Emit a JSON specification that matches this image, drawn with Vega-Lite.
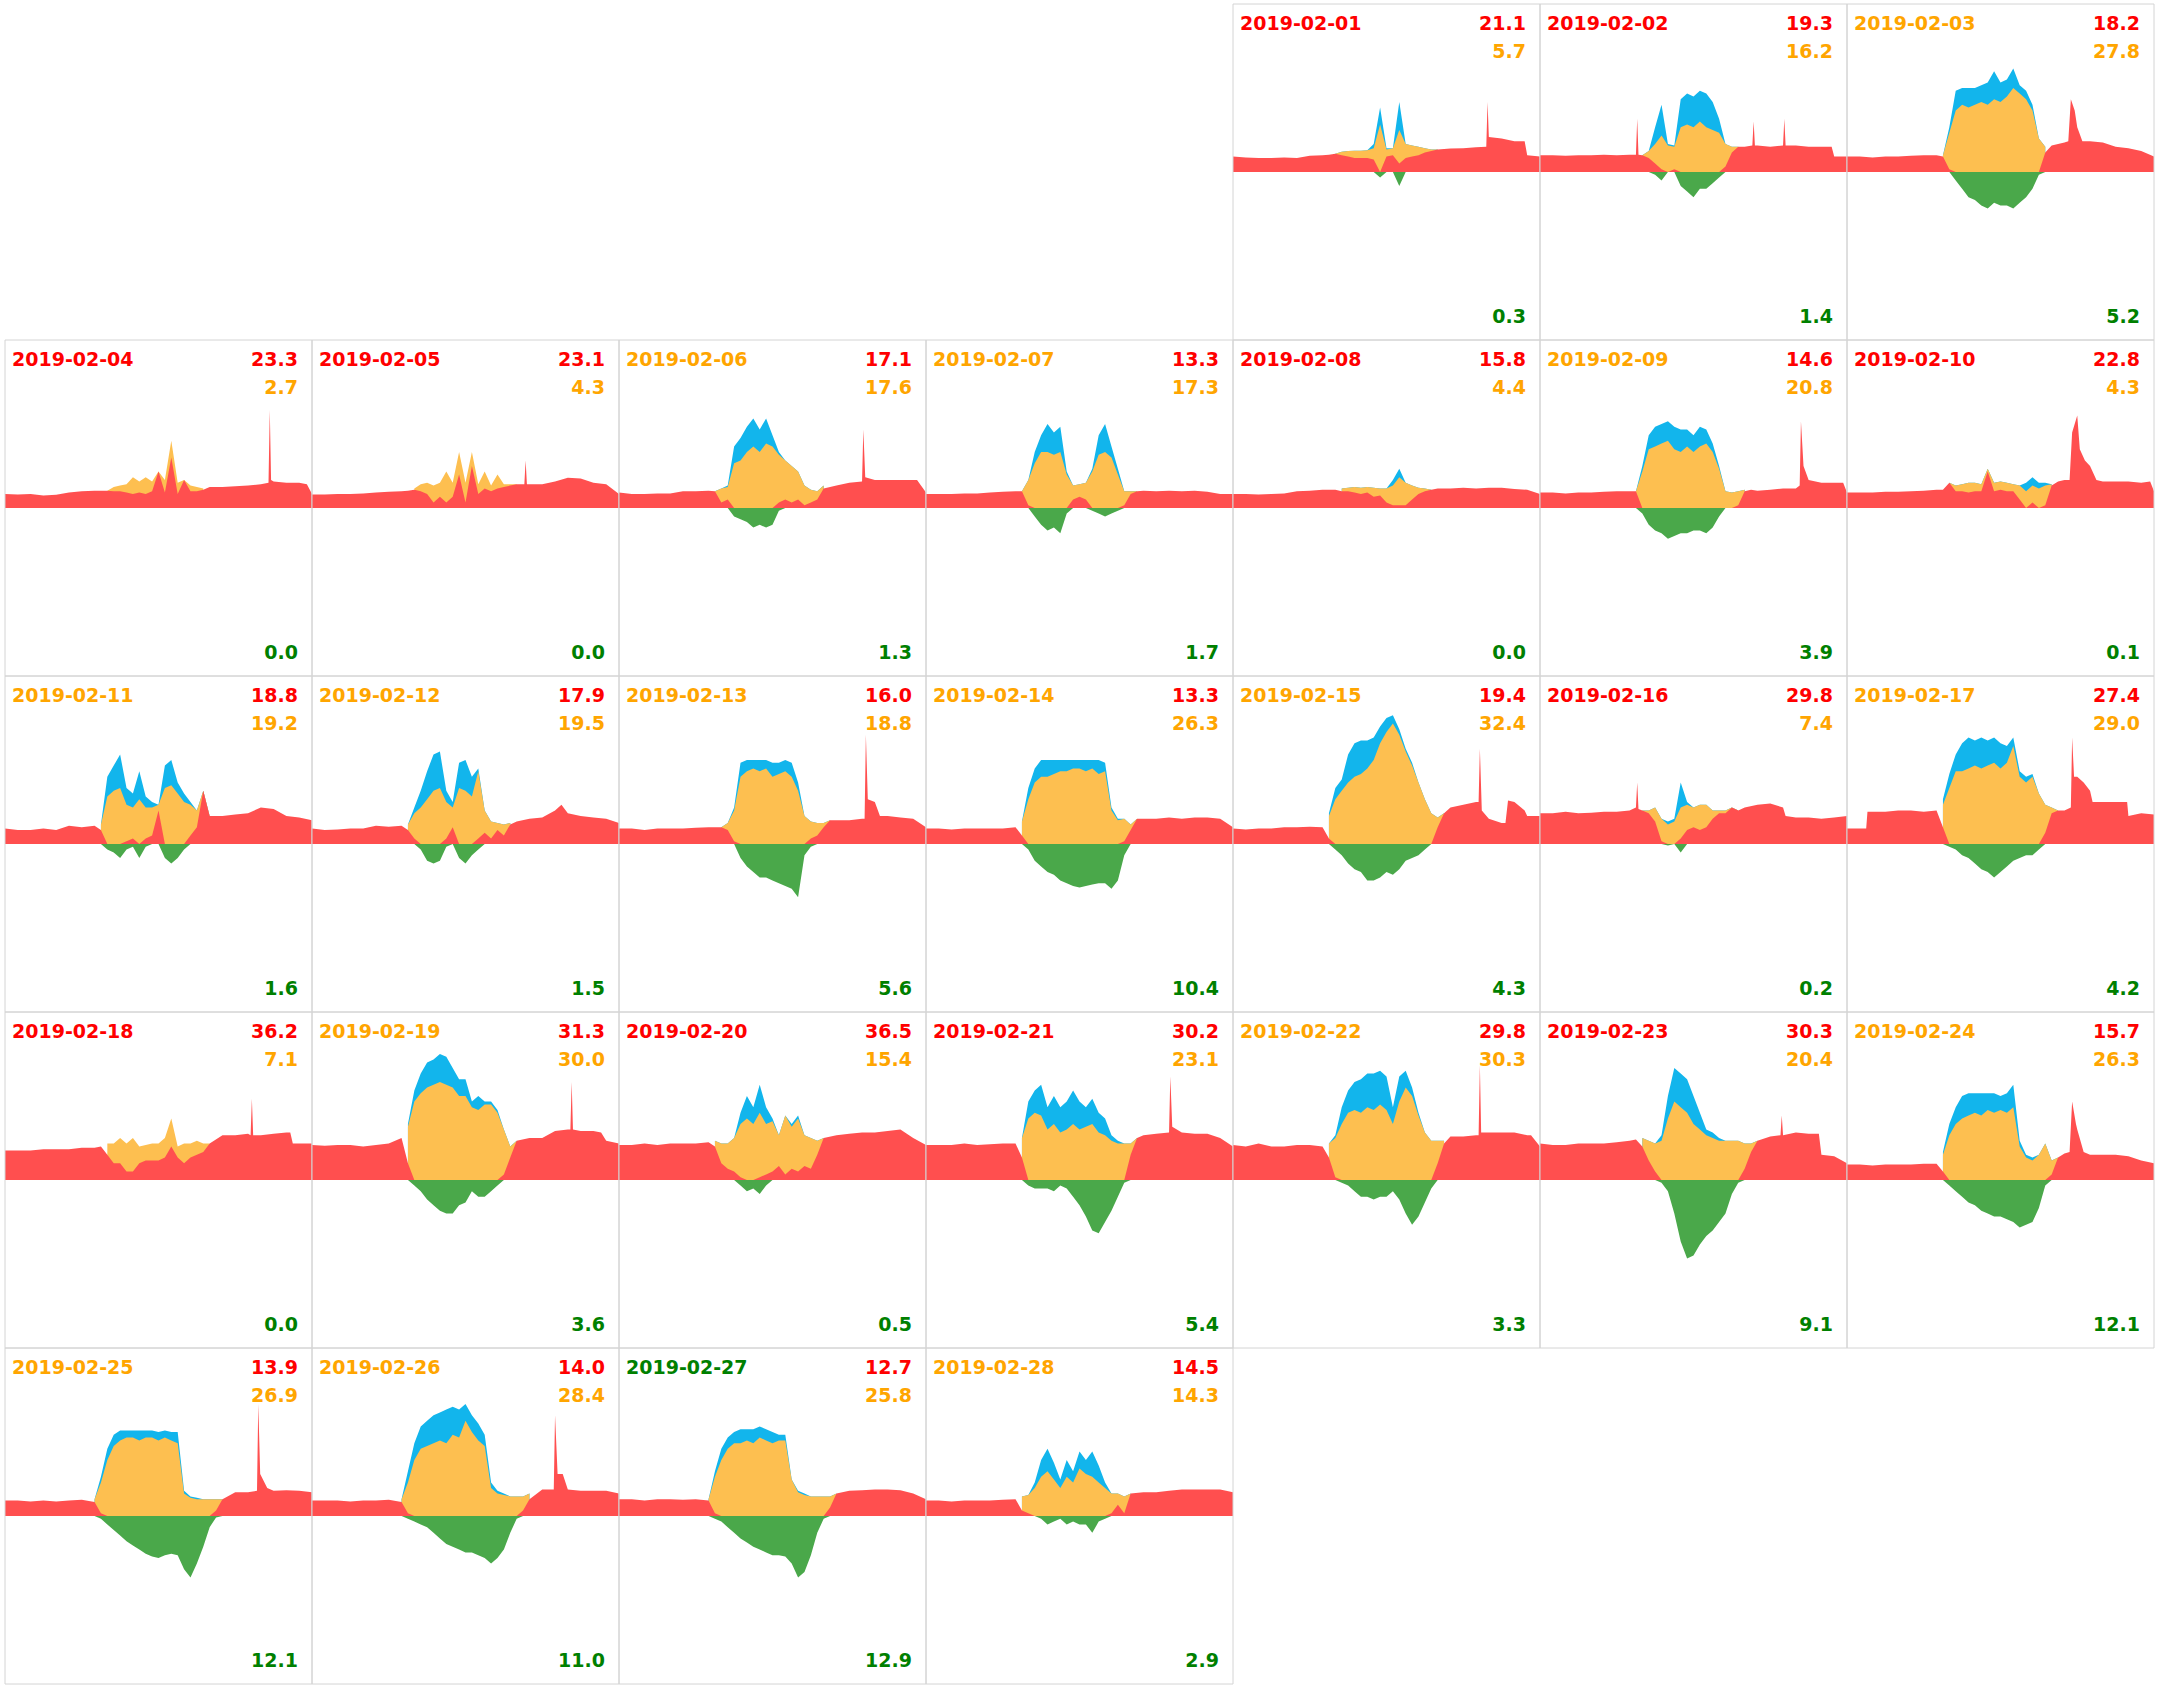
{
  "$schema": "https://vega.github.io/schema/vega-lite/v6.json",
  "padding": {"left": 4, "top": 3, "right": 4, "bottom": 3},
  "background": "white",
  "bounds": "flush",
  "data": {
    "values": [
      {"day":1,"dt":"2019-02-01","inKwh":21.1,"pvKwh":5.7,"outKwh":0.3,"lead":"import"},
      {"day":2,"dt":"2019-02-02","inKwh":19.3,"pvKwh":16.2,"outKwh":1.4,"lead":"import"},
      {"day":3,"dt":"2019-02-03","inKwh":18.2,"pvKwh":27.8,"outKwh":5.2,"lead":"solar"},
      {"day":4,"dt":"2019-02-04","inKwh":23.3,"pvKwh":2.7,"outKwh":0.0,"lead":"import"},
      {"day":5,"dt":"2019-02-05","inKwh":23.1,"pvKwh":4.3,"outKwh":0.0,"lead":"import"},
      {"day":6,"dt":"2019-02-06","inKwh":17.1,"pvKwh":17.6,"outKwh":1.3,"lead":"solar"},
      {"day":7,"dt":"2019-02-07","inKwh":13.3,"pvKwh":17.3,"outKwh":1.7,"lead":"solar"},
      {"day":8,"dt":"2019-02-08","inKwh":15.8,"pvKwh":4.4,"outKwh":0.0,"lead":"import"},
      {"day":9,"dt":"2019-02-09","inKwh":14.6,"pvKwh":20.8,"outKwh":3.9,"lead":"solar"},
      {"day":10,"dt":"2019-02-10","inKwh":22.8,"pvKwh":4.3,"outKwh":0.1,"lead":"import"},
      {"day":11,"dt":"2019-02-11","inKwh":18.8,"pvKwh":19.2,"outKwh":1.6,"lead":"solar"},
      {"day":12,"dt":"2019-02-12","inKwh":17.9,"pvKwh":19.5,"outKwh":1.5,"lead":"solar"},
      {"day":13,"dt":"2019-02-13","inKwh":16.0,"pvKwh":18.8,"outKwh":5.6,"lead":"solar"},
      {"day":14,"dt":"2019-02-14","inKwh":13.3,"pvKwh":26.3,"outKwh":10.4,"lead":"solar"},
      {"day":15,"dt":"2019-02-15","inKwh":19.4,"pvKwh":32.4,"outKwh":4.3,"lead":"solar"},
      {"day":16,"dt":"2019-02-16","inKwh":29.8,"pvKwh":7.4,"outKwh":0.2,"lead":"import"},
      {"day":17,"dt":"2019-02-17","inKwh":27.4,"pvKwh":29.0,"outKwh":4.2,"lead":"solar"},
      {"day":18,"dt":"2019-02-18","inKwh":36.2,"pvKwh":7.1,"outKwh":0.0,"lead":"import"},
      {"day":19,"dt":"2019-02-19","inKwh":31.3,"pvKwh":30.0,"outKwh":3.6,"lead":"solar"},
      {"day":20,"dt":"2019-02-20","inKwh":36.5,"pvKwh":15.4,"outKwh":0.5,"lead":"import"},
      {"day":21,"dt":"2019-02-21","inKwh":30.2,"pvKwh":23.1,"outKwh":5.4,"lead":"import"},
      {"day":22,"dt":"2019-02-22","inKwh":29.8,"pvKwh":30.3,"outKwh":3.3,"lead":"solar"},
      {"day":23,"dt":"2019-02-23","inKwh":30.3,"pvKwh":20.4,"outKwh":9.1,"lead":"import"},
      {"day":24,"dt":"2019-02-24","inKwh":15.7,"pvKwh":26.3,"outKwh":12.1,"lead":"solar"},
      {"day":25,"dt":"2019-02-25","inKwh":13.9,"pvKwh":26.9,"outKwh":12.1,"lead":"solar"},
      {"day":26,"dt":"2019-02-26","inKwh":14.0,"pvKwh":28.4,"outKwh":11.0,"lead":"solar"},
      {"day":27,"dt":"2019-02-27","inKwh":12.7,"pvKwh":25.8,"outKwh":12.9,"lead":"export"},
      {"day":28,"dt":"2019-02-28","inKwh":14.5,"pvKwh":14.3,"outKwh":2.9,"lead":"solar"},

      {"day":1,"t":0,"imp":0.55},{"day":1,"t":1,"imp":0.52},{"day":1,"t":2,"imp":0.5},{"day":1,"t":3,"imp":0.5},{"day":1,"t":4,"imp":0.52},{"day":1,"t":5,"imp":0.5},{"day":1,"t":6,"imp":0.58},{"day":1,"t":7,"imp":0.6},{"day":1,"t":7.5,"imp":0.62},
      {"day":1,"t":8,"imp":0.65,"own":0.65,"pv":0.65,"exp":0},{"day":1,"t":8.5,"imp":0.6,"own":0.72,"pv":0.72,"exp":0},{"day":1,"t":9,"imp":0.55,"own":0.75,"pv":0.75,"exp":0},{"day":1,"t":9.5,"imp":0.5,"own":0.76,"pv":0.76,"exp":0},{"day":1,"t":10,"imp":0.5,"own":0.76,"pv":0.76,"exp":0},{"day":1,"t":10.5,"imp":0.5,"own":0.78,"pv":0.78,"exp":0},{"day":1,"t":11,"imp":0.45,"own":0.85,"pv":1.0,"exp":0},{"day":1,"t":11.5,"imp":0,"own":1.7,"pv":2.3,"exp":-0.2},{"day":1,"t":12,"imp":0.55,"own":0.8,"pv":0.85,"exp":0},{"day":1,"t":12.5,"imp":0.6,"own":0.85,"pv":0.85,"exp":0},{"day":1,"t":13,"imp":0.3,"own":1.5,"pv":2.5,"exp":-0.5},{"day":1,"t":13.5,"imp":0.5,"own":1.0,"pv":1.0,"exp":0},{"day":1,"t":14,"imp":0.55,"own":0.95,"pv":0.95,"exp":0},{"day":1,"t":14.5,"imp":0.6,"own":0.9,"pv":0.9,"exp":0},{"day":1,"t":15,"imp":0.7,"own":0.85,"pv":0.85,"exp":0},{"day":1,"t":15.5,"imp":0.75,"own":0.8,"pv":0.8,"exp":0},{"day":1,"t":16,"imp":0.8,"own":0.8,"pv":0.8,"exp":0},
      {"day":1,"t":16.5,"imp":0.82},{"day":1,"t":17,"imp":0.84},{"day":1,"t":18,"imp":0.85},{"day":1,"t":19,"imp":0.88},{"day":1,"t":19.8,"imp":0.9},{"day":1,"t":19.9,"imp":2.5},{"day":1,"t":20,"imp":1.25},{"day":1,"t":21,"imp":1.2},{"day":1,"t":22,"imp":1.1},{"day":1,"t":22.8,"imp":1.1},{"day":1,"t":23,"imp":0.6},{"day":1,"t":24,"imp":0.55},

      {"day":2,"t":0,"imp":0.6},{"day":2,"t":1,"imp":0.6},{"day":2,"t":2,"imp":0.58},{"day":2,"t":3,"imp":0.6},{"day":2,"t":4,"imp":0.6},{"day":2,"t":5,"imp":0.62},{"day":2,"t":6,"imp":0.6},{"day":2,"t":7,"imp":0.62},{"day":2,"t":7.5,"imp":0.62},{"day":2,"t":7.6,"imp":1.9},{"day":2,"t":7.7,"imp":0.62},
      {"day":2,"t":8,"imp":0.6,"own":0.6,"pv":0.6,"exp":0},{"day":2,"t":8.5,"imp":0.5,"own":0.75,"pv":0.75,"exp":0},{"day":2,"t":9,"imp":0.3,"own":1.0,"pv":1.6,"exp":-0.1},{"day":2,"t":9.5,"imp":0.1,"own":1.3,"pv":2.4,"exp":-0.3},{"day":2,"t":10,"imp":0,"own":0.95,"pv":1.0,"exp":0},{"day":2,"t":10.5,"imp":0.1,"own":0.9,"pv":0.95,"exp":0},{"day":2,"t":11,"imp":0,"own":1.6,"pv":2.6,"exp":-0.5},{"day":2,"t":11.5,"imp":0,"own":1.7,"pv":2.8,"exp":-0.7},{"day":2,"t":12,"imp":0,"own":1.6,"pv":2.7,"exp":-0.9},{"day":2,"t":12.5,"imp":0,"own":1.8,"pv":2.9,"exp":-0.6},{"day":2,"t":13,"imp":0,"own":1.6,"pv":2.8,"exp":-0.6},{"day":2,"t":13.5,"imp":0,"own":1.5,"pv":2.5,"exp":-0.4},{"day":2,"t":14,"imp":0,"own":1.4,"pv":1.9,"exp":-0.2},{"day":2,"t":14.5,"imp":0.2,"own":1.0,"pv":1.0,"exp":0},{"day":2,"t":15,"imp":0.7,"own":0.9,"pv":0.9,"exp":0},{"day":2,"t":15.5,"imp":0.9,"own":0.9,"pv":0.9,"exp":0},
      {"day":2,"t":16,"imp":0.9},{"day":2,"t":16.6,"imp":0.95},{"day":2,"t":16.7,"imp":1.8},{"day":2,"t":16.8,"imp":0.95},{"day":2,"t":17,"imp":0.95},{"day":2,"t":18,"imp":0.9},{"day":2,"t":19,"imp":0.95},{"day":2,"t":19.1,"imp":1.9},{"day":2,"t":19.2,"imp":0.95},{"day":2,"t":20,"imp":0.95},{"day":2,"t":21,"imp":0.9},{"day":2,"t":22,"imp":0.9},{"day":2,"t":22.8,"imp":0.9},{"day":2,"t":23,"imp":0.55},{"day":2,"t":24,"imp":0.55},

      {"day":3,"t":0,"imp":0.55},{"day":3,"t":1,"imp":0.55},{"day":3,"t":2,"imp":0.52},{"day":3,"t":3,"imp":0.55},{"day":3,"t":4,"imp":0.55},{"day":3,"t":5,"imp":0.58},{"day":3,"t":6,"imp":0.6},{"day":3,"t":7,"imp":0.6},
      {"day":3,"t":7.5,"imp":0.55,"own":0.6,"pv":0.6,"exp":0},{"day":3,"t":8,"imp":0.1,"own":1.4,"pv":1.6,"exp":0},{"day":3,"t":8.5,"imp":0,"own":2.2,"pv":2.9,"exp":-0.3},{"day":3,"t":9,"imp":0,"own":2.4,"pv":3.0,"exp":-0.6},{"day":3,"t":9.5,"imp":0,"own":2.3,"pv":3.0,"exp":-0.9},{"day":3,"t":10,"imp":0,"own":2.4,"pv":3.0,"exp":-1.0},{"day":3,"t":10.5,"imp":0,"own":2.5,"pv":3.1,"exp":-1.2},{"day":3,"t":11,"imp":0,"own":2.4,"pv":3.2,"exp":-1.3},{"day":3,"t":11.5,"imp":0,"own":2.6,"pv":3.6,"exp":-1.1},{"day":3,"t":12,"imp":0,"own":2.5,"pv":3.2,"exp":-1.2},{"day":3,"t":12.5,"imp":0,"own":2.7,"pv":3.3,"exp":-1.2},{"day":3,"t":13,"imp":0,"own":3.0,"pv":3.7,"exp":-1.3},{"day":3,"t":13.5,"imp":0,"own":2.8,"pv":3.1,"exp":-1.1},{"day":3,"t":14,"imp":0,"own":2.6,"pv":2.9,"exp":-0.9},{"day":3,"t":14.5,"imp":0,"own":2.2,"pv":2.4,"exp":-0.6},{"day":3,"t":15,"imp":0,"own":1.2,"pv":1.2,"exp":-0.1},{"day":3,"t":15.5,"imp":0.7,"own":0.9,"pv":0.9,"exp":0},
      {"day":3,"t":16,"imp":0.95},{"day":3,"t":17,"imp":1.05},{"day":3,"t":17.3,"imp":1.1},{"day":3,"t":17.5,"imp":2.6},{"day":3,"t":17.8,"imp":2.2},{"day":3,"t":18,"imp":1.6},{"day":3,"t":18.4,"imp":1.1},{"day":3,"t":19,"imp":1.1},{"day":3,"t":20,"imp":1.05},{"day":3,"t":21,"imp":0.9},{"day":3,"t":22,"imp":0.85},{"day":3,"t":23,"imp":0.75},{"day":3,"t":24,"imp":0.55},

      {"day":4,"t":0,"imp":0.5},{"day":4,"t":1,"imp":0.48},{"day":4,"t":2,"imp":0.5},{"day":4,"t":3,"imp":0.45},{"day":4,"t":4,"imp":0.47},{"day":4,"t":5,"imp":0.55},{"day":4,"t":6,"imp":0.6},{"day":4,"t":7,"imp":0.62},{"day":4,"t":7.5,"imp":0.62},
      {"day":4,"t":8,"imp":0.62,"own":0.62},{"day":4,"t":8.5,"imp":0.6,"own":0.75},{"day":4,"t":9,"imp":0.6,"own":0.8},{"day":4,"t":9.5,"imp":0.55,"own":0.85},{"day":4,"t":10,"imp":0.5,"own":1.1},{"day":4,"t":10.5,"imp":0.55,"own":0.95},{"day":4,"t":11,"imp":0.5,"own":1.1},{"day":4,"t":11.5,"imp":0.6,"own":0.95},{"day":4,"t":12,"imp":1.3,"own":1.3},{"day":4,"t":12.5,"imp":0.55,"own":1.0},{"day":4,"t":13,"imp":1.8,"own":2.4},{"day":4,"t":13.5,"imp":0.5,"own":0.9},{"day":4,"t":14,"imp":1.0,"own":1.0},{"day":4,"t":14.5,"imp":0.6,"own":0.8},{"day":4,"t":15,"imp":0.6,"own":0.75},{"day":4,"t":15.5,"imp":0.65,"own":0.7},
      {"day":4,"t":16,"imp":0.75},{"day":4,"t":17,"imp":0.75},{"day":4,"t":18,"imp":0.78},{"day":4,"t":19,"imp":0.8},{"day":4,"t":20,"imp":0.85},{"day":4,"t":20.6,"imp":0.9},{"day":4,"t":20.7,"imp":3.5},{"day":4,"t":20.8,"imp":1.0},{"day":4,"t":21,"imp":0.95},{"day":4,"t":22,"imp":0.9},{"day":4,"t":23,"imp":0.9},{"day":4,"t":23.6,"imp":0.85},{"day":4,"t":24,"imp":0.5},

      {"day":5,"t":0,"imp":0.48},{"day":5,"t":1,"imp":0.48},{"day":5,"t":2,"imp":0.5},{"day":5,"t":3,"imp":0.5},{"day":5,"t":4,"imp":0.52},{"day":5,"t":5,"imp":0.55},{"day":5,"t":6,"imp":0.58},{"day":5,"t":7,"imp":0.6},{"day":5,"t":7.5,"imp":0.62},
      {"day":5,"t":8,"imp":0.65,"own":0.7},{"day":5,"t":8.5,"imp":0.6,"own":0.85},{"day":5,"t":9,"imp":0.5,"own":0.9},{"day":5,"t":9.5,"imp":0.2,"own":0.8},{"day":5,"t":10,"imp":0.4,"own":0.9},{"day":5,"t":10.5,"imp":0.2,"own":1.3},{"day":5,"t":11,"imp":0.4,"own":0.9},{"day":5,"t":11.5,"imp":1.2,"own":2.0},{"day":5,"t":12,"imp":0.2,"own":0.9},{"day":5,"t":12.5,"imp":1.5,"own":2.0},{"day":5,"t":13,"imp":0.5,"own":0.85},{"day":5,"t":13.5,"imp":0.7,"own":1.3},{"day":5,"t":14,"imp":0.6,"own":0.8},{"day":5,"t":14.5,"imp":0.7,"own":1.2},{"day":5,"t":15,"imp":0.75,"own":0.85},{"day":5,"t":15.5,"imp":0.8,"own":0.85},{"day":5,"t":16,"imp":0.85,"own":0.85},
      {"day":5,"t":16.6,"imp":0.85},{"day":5,"t":16.7,"imp":1.7},{"day":5,"t":16.8,"imp":0.85},{"day":5,"t":17,"imp":0.85},{"day":5,"t":18,"imp":0.85},{"day":5,"t":19,"imp":0.95},{"day":5,"t":20,"imp":1.08},{"day":5,"t":21,"imp":1.05},{"day":5,"t":22,"imp":0.9},{"day":5,"t":23,"imp":0.85},{"day":5,"t":24,"imp":0.5},

      {"day":6,"t":0,"imp":0.55},{"day":6,"t":1,"imp":0.5},{"day":6,"t":2,"imp":0.5},{"day":6,"t":3,"imp":0.52},{"day":6,"t":4,"imp":0.52},{"day":6,"t":5,"imp":0.6},{"day":6,"t":6,"imp":0.6},{"day":6,"t":7,"imp":0.62},
      {"day":6,"t":7.5,"imp":0.6,"own":0.6,"pv":0.6,"exp":0},{"day":6,"t":8,"imp":0.2,"own":0.7,"pv":0.7,"exp":0},{"day":6,"t":8.5,"imp":0.3,"own":0.75,"pv":0.8,"exp":0},{"day":6,"t":9,"imp":0,"own":1.6,"pv":2.2,"exp":-0.3},{"day":6,"t":9.5,"imp":0,"own":1.7,"pv":2.5,"exp":-0.4},{"day":6,"t":10,"imp":0,"own":2.0,"pv":2.9,"exp":-0.5},{"day":6,"t":10.5,"imp":0,"own":2.2,"pv":3.2,"exp":-0.7},{"day":6,"t":11,"imp":0,"own":2.0,"pv":2.8,"exp":-0.6},{"day":6,"t":11.5,"imp":0,"own":2.3,"pv":3.2,"exp":-0.7},{"day":6,"t":12,"imp":0,"own":2.2,"pv":2.6,"exp":-0.6},{"day":6,"t":12.5,"imp":0.2,"own":1.9,"pv":2.0,"exp":-0.1},{"day":6,"t":13,"imp":0.3,"own":1.7,"pv":1.7,"exp":0},{"day":6,"t":13.5,"imp":0.2,"own":1.5,"pv":1.5,"exp":0},{"day":6,"t":14,"imp":0.3,"own":1.3,"pv":1.3,"exp":0},{"day":6,"t":14.5,"imp":0.1,"own":0.8,"pv":0.8,"exp":0},{"day":6,"t":15,"imp":0.2,"own":0.65,"pv":0.65,"exp":0},{"day":6,"t":15.5,"imp":0.3,"own":0.6,"pv":0.6,"exp":0},{"day":6,"t":16,"imp":0.7,"own":0.8,"pv":0.8,"exp":0},
      {"day":6,"t":16.5,"imp":0.75},{"day":6,"t":17,"imp":0.8},{"day":6,"t":18,"imp":0.9},{"day":6,"t":19,"imp":0.95},{"day":6,"t":19.1,"imp":2.8},{"day":6,"t":19.25,"imp":1.1},{"day":6,"t":20,"imp":1.0},{"day":6,"t":21,"imp":1.0},{"day":6,"t":22,"imp":1.0},{"day":6,"t":23,"imp":1.0},{"day":6,"t":23.3,"imp":1.0},{"day":6,"t":24,"imp":0.55},

      {"day":7,"t":0,"imp":0.5},{"day":7,"t":1,"imp":0.5},{"day":7,"t":2,"imp":0.5},{"day":7,"t":3,"imp":0.52},{"day":7,"t":4,"imp":0.52},{"day":7,"t":5,"imp":0.55},{"day":7,"t":6,"imp":0.58},{"day":7,"t":7,"imp":0.6},{"day":7,"t":7.5,"imp":0.6,"own":0.6,"pv":0.6,"exp":0},
      {"day":7,"t":8,"imp":0.1,"own":1.0,"pv":1.0,"exp":0},{"day":7,"t":8.5,"imp":0,"own":1.6,"pv":2.0,"exp":-0.3},{"day":7,"t":9,"imp":0,"own":2.0,"pv":2.6,"exp":-0.6},{"day":7,"t":9.5,"imp":0,"own":2.0,"pv":3.0,"exp":-0.8},{"day":7,"t":10,"imp":0,"own":1.9,"pv":2.7,"exp":-0.7},{"day":7,"t":10.5,"imp":0,"own":2.0,"pv":2.9,"exp":-0.9},{"day":7,"t":11,"imp":0,"own":1.2,"pv":1.3,"exp":-0.2},{"day":7,"t":11.5,"imp":0.3,"own":0.8,"pv":0.8,"exp":0},{"day":7,"t":12,"imp":0.4,"own":0.85,"pv":0.85,"exp":0},{"day":7,"t":12.5,"imp":0.3,"own":0.9,"pv":0.9,"exp":0},{"day":7,"t":13,"imp":0,"own":1.3,"pv":1.4,"exp":-0.1},{"day":7,"t":13.5,"imp":0,"own":1.9,"pv":2.6,"exp":-0.2},{"day":7,"t":14,"imp":0,"own":2.0,"pv":3.0,"exp":-0.3},{"day":7,"t":14.5,"imp":0,"own":1.8,"pv":2.2,"exp":-0.2},{"day":7,"t":15,"imp":0,"own":1.2,"pv":1.4,"exp":-0.1},{"day":7,"t":15.5,"imp":0.1,"own":0.6,"pv":0.6,"exp":0},{"day":7,"t":16,"imp":0.5,"own":0.6,"pv":0.6,"exp":0},{"day":7,"t":16.5,"imp":0.6,"own":0.6,"pv":0.6,"exp":0},
      {"day":7,"t":17,"imp":0.62},{"day":7,"t":18,"imp":0.6},{"day":7,"t":19,"imp":0.62},{"day":7,"t":20,"imp":0.6},{"day":7,"t":21,"imp":0.62},{"day":7,"t":22,"imp":0.58},{"day":7,"t":23,"imp":0.5},{"day":7,"t":24,"imp":0.5},

      {"day":8,"t":0,"imp":0.5},{"day":8,"t":1,"imp":0.5},{"day":8,"t":2,"imp":0.48},{"day":8,"t":3,"imp":0.5},{"day":8,"t":4,"imp":0.52},{"day":8,"t":5,"imp":0.6},{"day":8,"t":6,"imp":0.62},{"day":8,"t":7,"imp":0.65},{"day":8,"t":7.5,"imp":0.65},{"day":8,"t":8,"imp":0.65},
      {"day":8,"t":8.5,"imp":0.6,"own":0.7,"pv":0.7},{"day":8,"t":9,"imp":0.6,"own":0.72,"pv":0.72},{"day":8,"t":9.5,"imp":0.55,"own":0.75,"pv":0.75},{"day":8,"t":10,"imp":0.5,"own":0.72,"pv":0.72},{"day":8,"t":10.5,"imp":0.55,"own":0.75,"pv":0.75},{"day":8,"t":11,"imp":0.4,"own":0.72,"pv":0.72},{"day":8,"t":11.5,"imp":0.45,"own":0.7,"pv":0.7},{"day":8,"t":12,"imp":0.2,"own":0.7,"pv":0.7},{"day":8,"t":12.5,"imp":0.1,"own":0.8,"pv":1.0},{"day":8,"t":13,"imp":0.1,"own":1.1,"pv":1.4},{"day":8,"t":13.5,"imp":0.1,"own":0.9,"pv":0.9},{"day":8,"t":14,"imp":0.3,"own":0.8,"pv":0.8},{"day":8,"t":14.5,"imp":0.5,"own":0.72,"pv":0.72},{"day":8,"t":15,"imp":0.6,"own":0.7,"pv":0.7},{"day":8,"t":15.5,"imp":0.65,"own":0.65,"pv":0.65},
      {"day":8,"t":16,"imp":0.7},{"day":8,"t":17,"imp":0.7},{"day":8,"t":18,"imp":0.72},{"day":8,"t":19,"imp":0.7},{"day":8,"t":20,"imp":0.72},{"day":8,"t":21,"imp":0.72},{"day":8,"t":22,"imp":0.68},{"day":8,"t":23,"imp":0.65},{"day":8,"t":24,"imp":0.5},

      {"day":9,"t":0,"imp":0.55},{"day":9,"t":1,"imp":0.55},{"day":9,"t":2,"imp":0.52},{"day":9,"t":3,"imp":0.55},{"day":9,"t":4,"imp":0.55},{"day":9,"t":5,"imp":0.58},{"day":9,"t":6,"imp":0.6},{"day":9,"t":7,"imp":0.6},
      {"day":9,"t":7.5,"imp":0.6,"own":0.6,"pv":0.6,"exp":0},{"day":9,"t":8,"imp":0,"own":1.3,"pv":1.5,"exp":-0.2},{"day":9,"t":8.5,"imp":0,"own":2.1,"pv":2.6,"exp":-0.6},{"day":9,"t":9,"imp":0,"own":2.2,"pv":2.9,"exp":-0.8},{"day":9,"t":9.5,"imp":0,"own":2.3,"pv":3.0,"exp":-0.9},{"day":9,"t":10,"imp":0,"own":2.4,"pv":3.1,"exp":-1.1},{"day":9,"t":10.5,"imp":0,"own":2.1,"pv":2.9,"exp":-1.0},{"day":9,"t":11,"imp":0,"own":2.0,"pv":2.8,"exp":-0.9},{"day":9,"t":11.5,"imp":0,"own":2.2,"pv":2.8,"exp":-0.9},{"day":9,"t":12,"imp":0,"own":2.0,"pv":2.6,"exp":-0.8},{"day":9,"t":12.5,"imp":0,"own":2.2,"pv":2.9,"exp":-0.8},{"day":9,"t":13,"imp":0,"own":2.3,"pv":2.8,"exp":-0.9},{"day":9,"t":13.5,"imp":0,"own":2.0,"pv":2.3,"exp":-0.7},{"day":9,"t":14,"imp":0,"own":1.4,"pv":1.5,"exp":-0.3},{"day":9,"t":14.5,"imp":0,"own":0.6,"pv":0.6,"exp":0},{"day":9,"t":15,"imp":0,"own":0.55,"pv":0.55,"exp":0},{"day":9,"t":15.5,"imp":0.1,"own":0.6,"pv":0.6,"exp":0},{"day":9,"t":16,"imp":0.6,"own":0.65,"pv":0.65,"exp":0},
      {"day":9,"t":16.5,"imp":0.65},{"day":9,"t":17,"imp":0.62},{"day":9,"t":18,"imp":0.65},{"day":9,"t":19,"imp":0.7},{"day":9,"t":20,"imp":0.7},{"day":9,"t":20.3,"imp":0.8},{"day":9,"t":20.4,"imp":3.1},{"day":9,"t":20.6,"imp":1.5},{"day":9,"t":21,"imp":1.0},{"day":9,"t":22,"imp":0.9},{"day":9,"t":23,"imp":0.9},{"day":9,"t":23.7,"imp":0.9},{"day":9,"t":24,"imp":0.55},

      {"day":10,"t":0,"imp":0.55},{"day":10,"t":1,"imp":0.55},{"day":10,"t":2,"imp":0.55},{"day":10,"t":3,"imp":0.58},{"day":10,"t":4,"imp":0.58},{"day":10,"t":5,"imp":0.6},{"day":10,"t":6,"imp":0.62},{"day":10,"t":7,"imp":0.65},{"day":10,"t":7.5,"imp":0.65},
      {"day":10,"t":8,"imp":0.9,"own":0.9,"pv":0.9},{"day":10,"t":8.5,"imp":0.6,"own":0.8,"pv":0.8},{"day":10,"t":9,"imp":0.6,"own":0.85,"pv":0.85},{"day":10,"t":9.5,"imp":0.55,"own":0.9,"pv":0.9},{"day":10,"t":10,"imp":0.6,"own":0.9,"pv":0.9},{"day":10,"t":10.5,"imp":0.6,"own":0.85,"pv":0.85},{"day":10,"t":11,"imp":1.3,"own":1.4,"pv":1.4},{"day":10,"t":11.5,"imp":0.6,"own":0.9,"pv":0.9},{"day":10,"t":12,"imp":0.65,"own":0.95,"pv":0.95},{"day":10,"t":12.5,"imp":0.6,"own":0.9,"pv":0.9},{"day":10,"t":13,"imp":0.6,"own":0.85,"pv":0.85},{"day":10,"t":13.5,"imp":0.3,"own":0.8,"pv":0.8},{"day":10,"t":14,"imp":0,"own":0.6,"pv":0.9},{"day":10,"t":14.5,"imp":0.2,"own":0.8,"pv":1.1},{"day":10,"t":15,"imp":0,"own":0.7,"pv":0.9},{"day":10,"t":15.5,"imp":0.1,"own":0.8,"pv":0.9},{"day":10,"t":16,"imp":0.8,"own":0.85,"pv":0.85},
      {"day":10,"t":16.5,"imp":0.95},{"day":10,"t":17,"imp":1.0},{"day":10,"t":17.4,"imp":1.0},{"day":10,"t":17.6,"imp":2.7},{"day":10,"t":18,"imp":3.3},{"day":10,"t":18.2,"imp":2.1},{"day":10,"t":18.6,"imp":1.7},{"day":10,"t":19,"imp":1.5},{"day":10,"t":19.5,"imp":1.0},{"day":10,"t":20,"imp":0.95},{"day":10,"t":21,"imp":0.95},{"day":10,"t":22,"imp":0.95},{"day":10,"t":23,"imp":0.9},{"day":10,"t":23.7,"imp":0.95},{"day":10,"t":24,"imp":0.6},

      {"day":11,"t":0,"imp":0.55},{"day":11,"t":1,"imp":0.5},{"day":11,"t":2,"imp":0.5},{"day":11,"t":3,"imp":0.55},{"day":11,"t":4,"imp":0.5},{"day":11,"t":5,"imp":0.65},{"day":11,"t":6,"imp":0.6},{"day":11,"t":7,"imp":0.65},
      {"day":11,"t":7.5,"imp":0.5,"own":0.7,"pv":0.7,"exp":0},{"day":11,"t":8,"imp":0,"own":1.7,"pv":2.4,"exp":-0.2},{"day":11,"t":8.5,"imp":0,"own":1.9,"pv":2.8,"exp":-0.3},{"day":11,"t":9,"imp":0,"own":2.0,"pv":3.2,"exp":-0.5},{"day":11,"t":9.5,"imp":0.1,"own":1.4,"pv":2.0,"exp":-0.2},{"day":11,"t":10,"imp":0.2,"own":1.3,"pv":1.8,"exp":-0.1},{"day":11,"t":10.5,"imp":0,"own":1.6,"pv":2.6,"exp":-0.5},{"day":11,"t":11,"imp":0.2,"own":1.3,"pv":1.7,"exp":-0.1},{"day":11,"t":11.5,"imp":0.3,"own":1.3,"pv":1.5,"exp":0},{"day":11,"t":12,"imp":1.2,"own":1.4,"pv":1.4,"exp":0},{"day":11,"t":12.5,"imp":0,"own":2.0,"pv":2.8,"exp":-0.5},{"day":11,"t":13,"imp":0,"own":2.1,"pv":3.0,"exp":-0.7},{"day":11,"t":13.5,"imp":0,"own":1.8,"pv":2.2,"exp":-0.5},{"day":11,"t":14,"imp":0,"own":1.5,"pv":1.8,"exp":-0.2},{"day":11,"t":14.5,"imp":0.3,"own":1.4,"pv":1.5,"exp":0},{"day":11,"t":15,"imp":0.6,"own":1.2,"pv":1.2,"exp":0},{"day":11,"t":15.5,"imp":1.9,"own":1.9,"pv":1.9,"exp":0},{"day":11,"t":16,"imp":1.0,"own":1.0,"pv":1.0,"exp":0},
      {"day":11,"t":17,"imp":1.0},{"day":11,"t":18,"imp":1.05},{"day":11,"t":19,"imp":1.1},{"day":11,"t":20,"imp":1.3},{"day":11,"t":21,"imp":1.25},{"day":11,"t":22,"imp":1.0},{"day":11,"t":23,"imp":0.95},{"day":11,"t":24,"imp":0.85},

      {"day":12,"t":0,"imp":0.55},{"day":12,"t":1,"imp":0.5},{"day":12,"t":2,"imp":0.52},{"day":12,"t":3,"imp":0.55},{"day":12,"t":4,"imp":0.55},{"day":12,"t":5,"imp":0.65},{"day":12,"t":6,"imp":0.62},{"day":12,"t":7,"imp":0.65},
      {"day":12,"t":7.5,"imp":0.5,"own":0.7,"pv":0.7,"exp":0},{"day":12,"t":8,"imp":0.2,"own":1.1,"pv":1.3,"exp":0},{"day":12,"t":8.5,"imp":0,"own":1.3,"pv":1.9,"exp":-0.2},{"day":12,"t":9,"imp":0,"own":1.6,"pv":2.6,"exp":-0.6},{"day":12,"t":9.5,"imp":0,"own":1.9,"pv":3.2,"exp":-0.7},{"day":12,"t":10,"imp":0,"own":2.0,"pv":3.3,"exp":-0.6},{"day":12,"t":10.5,"imp":0.2,"own":1.5,"pv":1.9,"exp":-0.1},{"day":12,"t":11,"imp":0.6,"own":1.3,"pv":1.5,"exp":0},{"day":12,"t":11.5,"imp":0,"own":2.0,"pv":2.9,"exp":-0.5},{"day":12,"t":12,"imp":0,"own":1.9,"pv":3.0,"exp":-0.7},{"day":12,"t":12.5,"imp":0,"own":1.7,"pv":2.4,"exp":-0.4},{"day":12,"t":13,"imp":0.2,"own":2.6,"pv":2.7,"exp":-0.2},{"day":12,"t":13.5,"imp":0.4,"own":1.2,"pv":1.2,"exp":0},{"day":12,"t":14,"imp":0.2,"own":0.8,"pv":0.8,"exp":0},{"day":12,"t":14.5,"imp":0.5,"own":0.75,"pv":0.75,"exp":0},{"day":12,"t":15,"imp":0.3,"own":0.7,"pv":0.7,"exp":0},{"day":12,"t":15.5,"imp":0.7,"own":0.75,"pv":0.75,"exp":0},
      {"day":12,"t":16,"imp":0.8},{"day":12,"t":17,"imp":0.9},{"day":12,"t":18,"imp":0.95},{"day":12,"t":19,"imp":1.2},{"day":12,"t":19.5,"imp":1.4},{"day":12,"t":20,"imp":1.1},{"day":12,"t":21,"imp":1.0},{"day":12,"t":22,"imp":0.95},{"day":12,"t":23,"imp":0.9},{"day":12,"t":24,"imp":0.75},

      {"day":13,"t":0,"imp":0.55},{"day":13,"t":1,"imp":0.55},{"day":13,"t":2,"imp":0.5},{"day":13,"t":3,"imp":0.55},{"day":13,"t":4,"imp":0.55},{"day":13,"t":5,"imp":0.55},{"day":13,"t":6,"imp":0.58},{"day":13,"t":7,"imp":0.6},{"day":13,"t":7.5,"imp":0.6},
      {"day":13,"t":8,"imp":0.6,"own":0.6,"pv":0.6,"exp":0},{"day":13,"t":8.5,"imp":0.5,"own":0.75,"pv":0.75,"exp":0},{"day":13,"t":9,"imp":0.1,"own":1.2,"pv":1.3,"exp":0},{"day":13,"t":9.5,"imp":0,"own":2.4,"pv":2.9,"exp":-0.5},{"day":13,"t":10,"imp":0,"own":2.6,"pv":3.0,"exp":-0.8},{"day":13,"t":10.5,"imp":0,"own":2.7,"pv":3.0,"exp":-1.0},{"day":13,"t":11,"imp":0,"own":2.6,"pv":3.0,"exp":-1.2},{"day":13,"t":11.5,"imp":0,"own":2.7,"pv":3.0,"exp":-1.2},{"day":13,"t":12,"imp":0,"own":2.4,"pv":2.9,"exp":-1.3},{"day":13,"t":12.5,"imp":0,"own":2.5,"pv":2.9,"exp":-1.4},{"day":13,"t":13,"imp":0,"own":2.6,"pv":3.0,"exp":-1.5},{"day":13,"t":13.5,"imp":0,"own":2.4,"pv":2.9,"exp":-1.6},{"day":13,"t":14,"imp":0,"own":1.9,"pv":2.2,"exp":-1.9},{"day":13,"t":14.5,"imp":0,"own":1.0,"pv":1.0,"exp":-0.4},{"day":13,"t":15,"imp":0.2,"own":0.8,"pv":0.8,"exp":-0.1},{"day":13,"t":15.5,"imp":0.3,"own":0.75,"pv":0.75,"exp":0},{"day":13,"t":16,"imp":0.6,"own":0.75,"pv":0.75,"exp":0},{"day":13,"t":16.5,"imp":0.85,"own":0.85,"pv":0.85,"exp":0},
      {"day":13,"t":17,"imp":0.85},{"day":13,"t":18,"imp":0.85},{"day":13,"t":19,"imp":0.9},{"day":13,"t":19.2,"imp":0.9},{"day":13,"t":19.3,"imp":3.9},{"day":13,"t":19.45,"imp":1.6},{"day":13,"t":20,"imp":1.5},{"day":13,"t":20.4,"imp":1.0},{"day":13,"t":21,"imp":1.0},{"day":13,"t":22,"imp":0.95},{"day":13,"t":23,"imp":0.9},{"day":13,"t":24,"imp":0.6},

      {"day":14,"t":0,"imp":0.55},{"day":14,"t":1,"imp":0.55},{"day":14,"t":2,"imp":0.52},{"day":14,"t":3,"imp":0.55},{"day":14,"t":4,"imp":0.55},{"day":14,"t":5,"imp":0.55},{"day":14,"t":6,"imp":0.55},{"day":14,"t":7,"imp":0.6},
      {"day":14,"t":7.5,"imp":0.3,"own":0.8,"pv":0.8,"exp":0},{"day":14,"t":8,"imp":0,"own":1.6,"pv":2.0,"exp":-0.2},{"day":14,"t":8.5,"imp":0,"own":2.2,"pv":2.7,"exp":-0.6},{"day":14,"t":9,"imp":0,"own":2.4,"pv":3.0,"exp":-0.8},{"day":14,"t":9.5,"imp":0,"own":2.4,"pv":3.0,"exp":-1.0},{"day":14,"t":10,"imp":0,"own":2.5,"pv":3.0,"exp":-1.1},{"day":14,"t":10.5,"imp":0,"own":2.6,"pv":3.0,"exp":-1.3},{"day":14,"t":11,"imp":0,"own":2.6,"pv":3.0,"exp":-1.4},{"day":14,"t":11.5,"imp":0,"own":2.7,"pv":3.0,"exp":-1.5},{"day":14,"t":12,"imp":0,"own":2.7,"pv":3.0,"exp":-1.55},{"day":14,"t":12.5,"imp":0,"own":2.6,"pv":3.0,"exp":-1.5},{"day":14,"t":13,"imp":0,"own":2.7,"pv":3.0,"exp":-1.45},{"day":14,"t":13.5,"imp":0,"own":2.5,"pv":3.0,"exp":-1.4},{"day":14,"t":14,"imp":0,"own":2.6,"pv":2.9,"exp":-1.4},{"day":14,"t":14.5,"imp":0,"own":1.2,"pv":1.3,"exp":-1.6},{"day":14,"t":15,"imp":0,"own":0.85,"pv":0.9,"exp":-1.3},{"day":14,"t":15.5,"imp":0.1,"own":0.9,"pv":0.9,"exp":-0.4},{"day":14,"t":16,"imp":0.5,"own":0.7,"pv":0.7,"exp":0},{"day":14,"t":16.5,"imp":0.9,"own":0.9,"pv":0.9,"exp":0},
      {"day":14,"t":17,"imp":0.9},{"day":14,"t":18,"imp":0.9},{"day":14,"t":19,"imp":0.95},{"day":14,"t":20,"imp":0.9},{"day":14,"t":21,"imp":0.95},{"day":14,"t":22,"imp":0.95},{"day":14,"t":23,"imp":0.9},{"day":14,"t":24,"imp":0.6},

      {"day":15,"t":0,"imp":0.55},{"day":15,"t":1,"imp":0.52},{"day":15,"t":2,"imp":0.55},{"day":15,"t":3,"imp":0.55},{"day":15,"t":4,"imp":0.6},{"day":15,"t":5,"imp":0.6},{"day":15,"t":6,"imp":0.62},{"day":15,"t":7,"imp":0.6},
      {"day":15,"t":7.5,"imp":0.2,"own":1.0,"pv":1.1,"exp":0},{"day":15,"t":8,"imp":0,"own":1.6,"pv":2.0,"exp":-0.2},{"day":15,"t":8.5,"imp":0,"own":1.9,"pv":2.3,"exp":-0.4},{"day":15,"t":9,"imp":0,"own":2.2,"pv":3.2,"exp":-0.7},{"day":15,"t":9.5,"imp":0,"own":2.4,"pv":3.6,"exp":-0.9},{"day":15,"t":10,"imp":0,"own":2.5,"pv":3.7,"exp":-1.0},{"day":15,"t":10.5,"imp":0,"own":2.7,"pv":3.7,"exp":-1.3},{"day":15,"t":11,"imp":0,"own":3.0,"pv":3.8,"exp":-1.3},{"day":15,"t":11.5,"imp":0,"own":3.6,"pv":4.2,"exp":-1.2},{"day":15,"t":12,"imp":0,"own":4.0,"pv":4.5,"exp":-1.0},{"day":15,"t":12.5,"imp":0,"own":4.3,"pv":4.6,"exp":-1.1},{"day":15,"t":13,"imp":0,"own":3.9,"pv":4.1,"exp":-0.9},{"day":15,"t":13.5,"imp":0,"own":3.3,"pv":3.4,"exp":-0.6},{"day":15,"t":14,"imp":0,"own":2.8,"pv":2.9,"exp":-0.5},{"day":15,"t":14.5,"imp":0,"own":2.2,"pv":2.2,"exp":-0.4},{"day":15,"t":15,"imp":0,"own":1.6,"pv":1.6,"exp":-0.2},{"day":15,"t":15.5,"imp":0,"own":1.1,"pv":1.1,"exp":0},{"day":15,"t":16,"imp":0.6,"own":0.95,"pv":0.95,"exp":0},{"day":15,"t":16.5,"imp":1.1,"own":1.1,"pv":1.1,"exp":0},
      {"day":15,"t":17,"imp":1.3},{"day":15,"t":18,"imp":1.4},{"day":15,"t":19,"imp":1.5},{"day":15,"t":19.2,"imp":1.5},{"day":15,"t":19.3,"imp":3.4},{"day":15,"t":19.45,"imp":1.2},{"day":15,"t":20,"imp":0.9},{"day":15,"t":21,"imp":0.75},{"day":15,"t":21.3,"imp":0.75},{"day":15,"t":21.5,"imp":1.55},{"day":15,"t":22,"imp":1.5},{"day":15,"t":22.8,"imp":1.2},{"day":15,"t":23,"imp":1.0},{"day":15,"t":24,"imp":1.0},

      {"day":16,"t":0,"imp":1.1},{"day":16,"t":1,"imp":1.1},{"day":16,"t":2,"imp":1.15},{"day":16,"t":3,"imp":1.1},{"day":16,"t":4,"imp":1.12},{"day":16,"t":5,"imp":1.15},{"day":16,"t":6,"imp":1.15},{"day":16,"t":7,"imp":1.2},{"day":16,"t":7.5,"imp":1.3},{"day":16,"t":7.6,"imp":2.2},{"day":16,"t":7.7,"imp":1.25},
      {"day":16,"t":8,"imp":1.2,"own":1.2,"pv":1.2,"exp":0},{"day":16,"t":8.5,"imp":1.1,"own":1.2,"pv":1.2,"exp":0},{"day":16,"t":9,"imp":0.8,"own":1.3,"pv":1.3,"exp":0},{"day":16,"t":9.5,"imp":0.1,"own":0.9,"pv":0.9,"exp":0},{"day":16,"t":10,"imp":0,"own":0.7,"pv":0.8,"exp":-0.05},{"day":16,"t":10.5,"imp":0,"own":0.8,"pv":0.9,"exp":0},{"day":16,"t":11,"imp":0.2,"own":1.3,"pv":2.2,"exp":-0.3},{"day":16,"t":11.5,"imp":0.5,"own":1.4,"pv":1.5,"exp":0},{"day":16,"t":12,"imp":0.6,"own":1.3,"pv":1.3,"exp":0},{"day":16,"t":12.5,"imp":0.5,"own":1.4,"pv":1.4,"exp":0},{"day":16,"t":13,"imp":0.6,"own":1.4,"pv":1.4,"exp":0},{"day":16,"t":13.5,"imp":0.9,"own":1.2,"pv":1.2,"exp":0},{"day":16,"t":14,"imp":1.1,"own":1.2,"pv":1.2,"exp":0},{"day":16,"t":14.5,"imp":1.1,"own":1.2,"pv":1.2,"exp":0},{"day":16,"t":15,"imp":1.3,"own":1.3,"pv":1.3,"exp":0},{"day":16,"t":15.5,"imp":1.2,"own":1.2,"pv":1.2,"exp":0},
      {"day":16,"t":16,"imp":1.3},{"day":16,"t":17,"imp":1.4},{"day":16,"t":18,"imp":1.45},{"day":16,"t":19,"imp":1.3},{"day":16,"t":19.2,"imp":1.0},{"day":16,"t":20,"imp":0.95},{"day":16,"t":21,"imp":0.95},{"day":16,"t":22,"imp":0.9},{"day":16,"t":23,"imp":0.95},{"day":16,"t":24,"imp":1.0},

      {"day":17,"t":0,"imp":0.55},{"day":17,"t":1,"imp":0.55},{"day":17,"t":1.5,"imp":0.55},{"day":17,"t":1.6,"imp":1.15},{"day":17,"t":2,"imp":1.15},{"day":17,"t":3,"imp":1.15},{"day":17,"t":4,"imp":1.2},{"day":17,"t":5,"imp":1.2},{"day":17,"t":6,"imp":1.15},{"day":17,"t":7,"imp":1.2},
      {"day":17,"t":7.5,"imp":0.6,"own":1.4,"pv":1.6,"exp":0},{"day":17,"t":8,"imp":0,"own":2.0,"pv":2.5,"exp":-0.1},{"day":17,"t":8.5,"imp":0,"own":2.6,"pv":3.2,"exp":-0.2},{"day":17,"t":9,"imp":0,"own":2.6,"pv":3.6,"exp":-0.4},{"day":17,"t":9.5,"imp":0,"own":2.7,"pv":3.8,"exp":-0.5},{"day":17,"t":10,"imp":0,"own":2.8,"pv":3.7,"exp":-0.7},{"day":17,"t":10.5,"imp":0,"own":2.7,"pv":3.8,"exp":-0.9},{"day":17,"t":11,"imp":0,"own":2.8,"pv":3.7,"exp":-1.0},{"day":17,"t":11.5,"imp":0,"own":2.9,"pv":3.8,"exp":-1.2},{"day":17,"t":12,"imp":0,"own":2.7,"pv":3.6,"exp":-1.0},{"day":17,"t":12.5,"imp":0,"own":2.9,"pv":3.5,"exp":-0.8},{"day":17,"t":13,"imp":0,"own":3.5,"pv":3.8,"exp":-0.6},{"day":17,"t":13.5,"imp":0,"own":2.4,"pv":2.6,"exp":-0.5},{"day":17,"t":14,"imp":0,"own":2.2,"pv":2.4,"exp":-0.4},{"day":17,"t":14.5,"imp":0,"own":2.4,"pv":2.5,"exp":-0.4},{"day":17,"t":15,"imp":0,"own":1.8,"pv":1.8,"exp":-0.2},{"day":17,"t":15.5,"imp":0.4,"own":1.4,"pv":1.4,"exp":0},{"day":17,"t":16,"imp":1.1,"own":1.3,"pv":1.3,"exp":0},{"day":17,"t":16.5,"imp":1.2,"own":1.2,"pv":1.2,"exp":0},
      {"day":17,"t":17,"imp":1.2},{"day":17,"t":17.5,"imp":1.3},{"day":17,"t":17.6,"imp":3.8},{"day":17,"t":17.75,"imp":2.4},{"day":17,"t":18,"imp":2.4},{"day":17,"t":18.5,"imp":2.2},{"day":17,"t":19,"imp":1.9},{"day":17,"t":19.2,"imp":1.5},{"day":17,"t":20,"imp":1.5},{"day":17,"t":21,"imp":1.5},{"day":17,"t":21.9,"imp":1.5},{"day":17,"t":22,"imp":1.0},{"day":17,"t":23,"imp":1.1},{"day":17,"t":24,"imp":1.05},

      {"day":18,"t":0,"imp":1.05},{"day":18,"t":1,"imp":1.05},{"day":18,"t":2,"imp":1.05},{"day":18,"t":3,"imp":1.1},{"day":18,"t":4,"imp":1.1},{"day":18,"t":5,"imp":1.1},{"day":18,"t":6,"imp":1.15},{"day":18,"t":7,"imp":1.15},{"day":18,"t":7.5,"imp":1.2},
      {"day":18,"t":8,"imp":0.9,"own":1.3},{"day":18,"t":8.5,"imp":0.6,"own":1.3},{"day":18,"t":9,"imp":0.6,"own":1.5},{"day":18,"t":9.5,"imp":0.3,"own":1.3},{"day":18,"t":10,"imp":0.3,"own":1.5},{"day":18,"t":10.5,"imp":0.6,"own":1.2},{"day":18,"t":11,"imp":0.7,"own":1.25},{"day":18,"t":11.5,"imp":0.7,"own":1.3},{"day":18,"t":12,"imp":0.7,"own":1.3},{"day":18,"t":12.5,"imp":0.8,"own":1.5},{"day":18,"t":13,"imp":1.2,"own":2.2},{"day":18,"t":13.5,"imp":0.8,"own":1.2},{"day":18,"t":14,"imp":0.6,"own":1.3},{"day":18,"t":14.5,"imp":0.8,"own":1.3},{"day":18,"t":15,"imp":0.9,"own":1.4},{"day":18,"t":15.5,"imp":1.0,"own":1.3},{"day":18,"t":16,"imp":1.3,"own":1.3},
      {"day":18,"t":17,"imp":1.6},{"day":18,"t":18,"imp":1.6},{"day":18,"t":19,"imp":1.65},{"day":18,"t":19.2,"imp":1.6},{"day":18,"t":19.3,"imp":2.9},{"day":18,"t":19.4,"imp":1.6},{"day":18,"t":20,"imp":1.6},{"day":18,"t":21,"imp":1.65},{"day":18,"t":22,"imp":1.7},{"day":18,"t":22.3,"imp":1.7},{"day":18,"t":22.5,"imp":1.3},{"day":18,"t":23,"imp":1.3},{"day":18,"t":24,"imp":1.3},

      {"day":19,"t":0,"imp":1.25},{"day":19,"t":1,"imp":1.22},{"day":19,"t":2,"imp":1.25},{"day":19,"t":3,"imp":1.25},{"day":19,"t":4,"imp":1.2},{"day":19,"t":5,"imp":1.25},{"day":19,"t":6,"imp":1.3},{"day":19,"t":7,"imp":1.5},
      {"day":19,"t":7.5,"imp":0.6,"own":1.9,"pv":2.0,"exp":0},{"day":19,"t":8,"imp":0,"own":2.8,"pv":3.2,"exp":-0.2},{"day":19,"t":8.5,"imp":0,"own":3.1,"pv":3.8,"exp":-0.4},{"day":19,"t":9,"imp":0,"own":3.3,"pv":4.2,"exp":-0.7},{"day":19,"t":9.5,"imp":0,"own":3.4,"pv":4.3,"exp":-0.9},{"day":19,"t":10,"imp":0,"own":3.5,"pv":4.5,"exp":-1.1},{"day":19,"t":10.5,"imp":0,"own":3.4,"pv":4.4,"exp":-1.2},{"day":19,"t":11,"imp":0,"own":3.3,"pv":4.0,"exp":-1.2},{"day":19,"t":11.5,"imp":0,"own":3.0,"pv":3.6,"exp":-0.9},{"day":19,"t":12,"imp":0,"own":3.0,"pv":3.6,"exp":-0.8},{"day":19,"t":12.5,"imp":0,"own":2.6,"pv":2.8,"exp":-0.4},{"day":19,"t":13,"imp":0,"own":2.5,"pv":3.0,"exp":-0.6},{"day":19,"t":13.5,"imp":0,"own":2.7,"pv":2.8,"exp":-0.6},{"day":19,"t":14,"imp":0,"own":2.7,"pv":2.8,"exp":-0.4},{"day":19,"t":14.5,"imp":0,"own":2.4,"pv":2.5,"exp":-0.2},{"day":19,"t":15,"imp":0.2,"own":1.8,"pv":1.8,"exp":0},{"day":19,"t":15.5,"imp":0.8,"own":1.2,"pv":1.2,"exp":0},{"day":19,"t":16,"imp":1.4,"own":1.4,"pv":1.4,"exp":0},
      {"day":19,"t":17,"imp":1.5},{"day":19,"t":18,"imp":1.5},{"day":19,"t":19,"imp":1.75},{"day":19,"t":20,"imp":1.8},{"day":19,"t":20.2,"imp":1.8},{"day":19,"t":20.3,"imp":3.5},{"day":19,"t":20.4,"imp":1.8},{"day":19,"t":21,"imp":1.75},{"day":19,"t":22,"imp":1.75},{"day":19,"t":22.6,"imp":1.7},{"day":19,"t":23,"imp":1.4},{"day":19,"t":24,"imp":1.3},

      {"day":20,"t":0,"imp":1.25},{"day":20,"t":1,"imp":1.25},{"day":20,"t":2,"imp":1.3},{"day":20,"t":3,"imp":1.25},{"day":20,"t":4,"imp":1.3},{"day":20,"t":5,"imp":1.3},{"day":20,"t":6,"imp":1.3},{"day":20,"t":7,"imp":1.35},
      {"day":20,"t":7.5,"imp":1.2,"own":1.4,"pv":1.4,"exp":0},{"day":20,"t":8,"imp":0.6,"own":1.3,"pv":1.3,"exp":0},{"day":20,"t":8.5,"imp":0.4,"own":1.3,"pv":1.3,"exp":0},{"day":20,"t":9,"imp":0.3,"own":1.5,"pv":1.5,"exp":0},{"day":20,"t":9.5,"imp":0.1,"own":2.0,"pv":2.4,"exp":-0.2},{"day":20,"t":10,"imp":0,"own":2.2,"pv":3.0,"exp":-0.4},{"day":20,"t":10.5,"imp":0,"own":2.0,"pv":2.6,"exp":-0.3},{"day":20,"t":11,"imp":0.1,"own":2.4,"pv":3.4,"exp":-0.5},{"day":20,"t":11.5,"imp":0.2,"own":2.0,"pv":2.6,"exp":-0.2},{"day":20,"t":12,"imp":0.3,"own":2.1,"pv":2.2,"exp":0},{"day":20,"t":12.5,"imp":0.5,"own":1.6,"pv":1.6,"exp":0},{"day":20,"t":13,"imp":0.2,"own":2.3,"pv":2.3,"exp":0},{"day":20,"t":13.5,"imp":0.4,"own":1.9,"pv":2.0,"exp":0},{"day":20,"t":14,"imp":0.3,"own":2.2,"pv":2.3,"exp":0},{"day":20,"t":14.5,"imp":0.5,"own":1.6,"pv":1.6,"exp":0},{"day":20,"t":15,"imp":0.4,"own":1.5,"pv":1.5,"exp":0},{"day":20,"t":15.5,"imp":0.9,"own":1.4,"pv":1.4,"exp":0},{"day":20,"t":16,"imp":1.5,"own":1.5,"pv":1.5,"exp":0},
      {"day":20,"t":17,"imp":1.6},{"day":20,"t":18,"imp":1.65},{"day":20,"t":19,"imp":1.7},{"day":20,"t":20,"imp":1.7},{"day":20,"t":21,"imp":1.75},{"day":20,"t":22,"imp":1.8},{"day":20,"t":23,"imp":1.5},{"day":20,"t":24,"imp":1.25},

      {"day":21,"t":0,"imp":1.25},{"day":21,"t":1,"imp":1.25},{"day":21,"t":2,"imp":1.25},{"day":21,"t":3,"imp":1.3},{"day":21,"t":4,"imp":1.25},{"day":21,"t":5,"imp":1.28},{"day":21,"t":6,"imp":1.3},{"day":21,"t":7,"imp":1.3},
      {"day":21,"t":7.5,"imp":0.8,"own":1.5,"pv":1.5,"exp":0},{"day":21,"t":8,"imp":0,"own":2.2,"pv":2.8,"exp":-0.2},{"day":21,"t":8.5,"imp":0,"own":2.4,"pv":3.2,"exp":-0.3},{"day":21,"t":9,"imp":0,"own":2.3,"pv":3.4,"exp":-0.3},{"day":21,"t":9.5,"imp":0,"own":1.8,"pv":2.6,"exp":-0.3},{"day":21,"t":10,"imp":0,"own":2.0,"pv":3.0,"exp":-0.4},{"day":21,"t":10.5,"imp":0,"own":1.7,"pv":2.6,"exp":-0.2},{"day":21,"t":11,"imp":0,"own":1.8,"pv":2.8,"exp":-0.3},{"day":21,"t":11.5,"imp":0,"own":2.0,"pv":3.2,"exp":-0.6},{"day":21,"t":12,"imp":0,"own":1.8,"pv":2.8,"exp":-0.9},{"day":21,"t":12.5,"imp":0,"own":1.9,"pv":2.6,"exp":-1.3},{"day":21,"t":13,"imp":0,"own":2.0,"pv":2.9,"exp":-1.8},{"day":21,"t":13.5,"imp":0,"own":1.7,"pv":2.4,"exp":-1.9},{"day":21,"t":14,"imp":0,"own":1.6,"pv":2.2,"exp":-1.5},{"day":21,"t":14.5,"imp":0,"own":1.4,"pv":1.6,"exp":-1.1},{"day":21,"t":15,"imp":0,"own":1.3,"pv":1.4,"exp":-0.6},{"day":21,"t":15.5,"imp":0,"own":1.3,"pv":1.3,"exp":-0.1},{"day":21,"t":16,"imp":0.9,"own":1.3,"pv":1.3,"exp":0},{"day":21,"t":16.5,"imp":1.5,"own":1.5,"pv":1.5,"exp":0},
      {"day":21,"t":17,"imp":1.6},{"day":21,"t":18,"imp":1.65},{"day":21,"t":19,"imp":1.7},{"day":21,"t":19.1,"imp":3.7},{"day":21,"t":19.25,"imp":1.9},{"day":21,"t":20,"imp":1.7},{"day":21,"t":21,"imp":1.65},{"day":21,"t":22,"imp":1.65},{"day":21,"t":23,"imp":1.5},{"day":21,"t":24,"imp":1.2},

      {"day":22,"t":0,"imp":1.25},{"day":22,"t":1,"imp":1.2},{"day":22,"t":2,"imp":1.3},{"day":22,"t":3,"imp":1.2},{"day":22,"t":4,"imp":1.2},{"day":22,"t":5,"imp":1.25},{"day":22,"t":6,"imp":1.25},{"day":22,"t":7,"imp":1.2},
      {"day":22,"t":7.5,"imp":0.8,"own":1.3,"pv":1.3,"exp":0},{"day":22,"t":8,"imp":0.1,"own":1.5,"pv":1.6,"exp":0},{"day":22,"t":8.5,"imp":0,"own":2.0,"pv":2.6,"exp":-0.1},{"day":22,"t":9,"imp":0,"own":2.4,"pv":3.2,"exp":-0.2},{"day":22,"t":9.5,"imp":0,"own":2.5,"pv":3.5,"exp":-0.4},{"day":22,"t":10,"imp":0,"own":2.4,"pv":3.6,"exp":-0.6},{"day":22,"t":10.5,"imp":0,"own":2.6,"pv":3.8,"exp":-0.6},{"day":22,"t":11,"imp":0,"own":2.5,"pv":3.8,"exp":-0.7},{"day":22,"t":11.5,"imp":0,"own":2.7,"pv":3.9,"exp":-0.6},{"day":22,"t":12,"imp":0,"own":2.5,"pv":3.7,"exp":-0.6},{"day":22,"t":12.5,"imp":0,"own":2.0,"pv":2.6,"exp":-0.4},{"day":22,"t":13,"imp":0,"own":2.8,"pv":3.7,"exp":-0.7},{"day":22,"t":13.5,"imp":0,"own":3.3,"pv":3.9,"exp":-1.2},{"day":22,"t":14,"imp":0,"own":3.0,"pv":3.3,"exp":-1.6},{"day":22,"t":14.5,"imp":0,"own":2.3,"pv":2.4,"exp":-1.3},{"day":22,"t":15,"imp":0,"own":1.7,"pv":1.7,"exp":-0.8},{"day":22,"t":15.5,"imp":0,"own":1.4,"pv":1.4,"exp":-0.3},{"day":22,"t":16,"imp":0.6,"own":1.4,"pv":1.4,"exp":0},{"day":22,"t":16.5,"imp":1.3,"own":1.4,"pv":1.4,"exp":0},
      {"day":22,"t":17,"imp":1.55},{"day":22,"t":18,"imp":1.55},{"day":22,"t":19,"imp":1.6},{"day":22,"t":19.2,"imp":1.6},{"day":22,"t":19.3,"imp":4.1},{"day":22,"t":19.4,"imp":1.7},{"day":22,"t":20,"imp":1.7},{"day":22,"t":21,"imp":1.7},{"day":22,"t":22,"imp":1.7},{"day":22,"t":23,"imp":1.6},{"day":22,"t":23.3,"imp":1.6},{"day":22,"t":24,"imp":1.2},

      {"day":23,"t":0,"imp":1.3},{"day":23,"t":1,"imp":1.25},{"day":23,"t":2,"imp":1.25},{"day":23,"t":3,"imp":1.3},{"day":23,"t":4,"imp":1.3},{"day":23,"t":5,"imp":1.3},{"day":23,"t":6,"imp":1.35},{"day":23,"t":7,"imp":1.4},{"day":23,"t":7.5,"imp":1.45},
      {"day":23,"t":8,"imp":1.2,"own":1.5,"pv":1.5,"exp":0},{"day":23,"t":8.5,"imp":0.7,"own":1.4,"pv":1.4,"exp":0},{"day":23,"t":9,"imp":0.3,"own":1.3,"pv":1.3,"exp":0},{"day":23,"t":9.5,"imp":0,"own":1.4,"pv":1.6,"exp":-0.1},{"day":23,"t":10,"imp":0,"own":2.2,"pv":3.0,"exp":-0.4},{"day":23,"t":10.5,"imp":0,"own":2.8,"pv":4.0,"exp":-1.2},{"day":23,"t":11,"imp":0,"own":2.6,"pv":3.8,"exp":-2.2},{"day":23,"t":11.5,"imp":0,"own":2.4,"pv":3.6,"exp":-2.8},{"day":23,"t":12,"imp":0,"own":2.0,"pv":3.0,"exp":-2.7},{"day":23,"t":12.5,"imp":0,"own":1.8,"pv":2.4,"exp":-2.3},{"day":23,"t":13,"imp":0,"own":1.6,"pv":1.8,"exp":-2.0},{"day":23,"t":13.5,"imp":0,"own":1.5,"pv":1.7,"exp":-1.8},{"day":23,"t":14,"imp":0,"own":1.4,"pv":1.5,"exp":-1.5},{"day":23,"t":14.5,"imp":0,"own":1.4,"pv":1.4,"exp":-1.2},{"day":23,"t":15,"imp":0,"own":1.4,"pv":1.4,"exp":-0.5},{"day":23,"t":15.5,"imp":0,"own":1.4,"pv":1.4,"exp":-0.1},{"day":23,"t":16,"imp":0.4,"own":1.3,"pv":1.3,"exp":0},{"day":23,"t":16.5,"imp":1.0,"own":1.3,"pv":1.3,"exp":0},{"day":23,"t":17,"imp":1.4,"own":1.4,"pv":1.4,"exp":0},
      {"day":23,"t":18,"imp":1.55},{"day":23,"t":18.8,"imp":1.6},{"day":23,"t":18.9,"imp":2.3},{"day":23,"t":19,"imp":1.6},{"day":23,"t":20,"imp":1.7},{"day":23,"t":21,"imp":1.65},{"day":23,"t":21.8,"imp":1.65},{"day":23,"t":22,"imp":0.9},{"day":23,"t":23,"imp":0.85},{"day":23,"t":24,"imp":0.6},

      {"day":24,"t":0,"imp":0.55},{"day":24,"t":1,"imp":0.55},{"day":24,"t":2,"imp":0.52},{"day":24,"t":3,"imp":0.55},{"day":24,"t":4,"imp":0.55},{"day":24,"t":5,"imp":0.55},{"day":24,"t":6,"imp":0.58},{"day":24,"t":7,"imp":0.58},
      {"day":24,"t":7.5,"imp":0.3,"own":0.9,"pv":1.0,"exp":0},{"day":24,"t":8,"imp":0,"own":1.6,"pv":2.0,"exp":-0.2},{"day":24,"t":8.5,"imp":0,"own":2.0,"pv":2.6,"exp":-0.4},{"day":24,"t":9,"imp":0,"own":2.2,"pv":3.0,"exp":-0.6},{"day":24,"t":9.5,"imp":0,"own":2.3,"pv":3.1,"exp":-0.8},{"day":24,"t":10,"imp":0,"own":2.4,"pv":3.1,"exp":-0.9},{"day":24,"t":10.5,"imp":0,"own":2.3,"pv":3.1,"exp":-1.1},{"day":24,"t":11,"imp":0,"own":2.5,"pv":3.1,"exp":-1.2},{"day":24,"t":11.5,"imp":0,"own":2.4,"pv":3.1,"exp":-1.3},{"day":24,"t":12,"imp":0,"own":2.5,"pv":3.0,"exp":-1.3},{"day":24,"t":12.5,"imp":0,"own":2.4,"pv":3.1,"exp":-1.4},{"day":24,"t":13,"imp":0,"own":2.6,"pv":3.4,"exp":-1.5},{"day":24,"t":13.5,"imp":0,"own":1.2,"pv":1.4,"exp":-1.7},{"day":24,"t":14,"imp":0,"own":0.8,"pv":0.9,"exp":-1.6},{"day":24,"t":14.5,"imp":0,"own":0.7,"pv":0.8,"exp":-1.5},{"day":24,"t":15,"imp":0,"own":0.9,"pv":0.9,"exp":-1.0},{"day":24,"t":15.5,"imp":0,"own":1.3,"pv":1.3,"exp":-0.2},{"day":24,"t":16,"imp":0.2,"own":0.7,"pv":0.7,"exp":0},{"day":24,"t":16.5,"imp":0.8,"own":0.8,"pv":0.8,"exp":0},
      {"day":24,"t":17,"imp":0.95},{"day":24,"t":17.4,"imp":1.0},{"day":24,"t":17.6,"imp":2.8},{"day":24,"t":17.9,"imp":2.0},{"day":24,"t":18,"imp":1.8},{"day":24,"t":18.5,"imp":1.0},{"day":24,"t":19,"imp":0.9},{"day":24,"t":20,"imp":0.9},{"day":24,"t":21,"imp":0.9},{"day":24,"t":22,"imp":0.85},{"day":24,"t":23,"imp":0.7},{"day":24,"t":24,"imp":0.6},

      {"day":25,"t":0,"imp":0.55},{"day":25,"t":1,"imp":0.55},{"day":25,"t":2,"imp":0.52},{"day":25,"t":3,"imp":0.55},{"day":25,"t":4,"imp":0.52},{"day":25,"t":5,"imp":0.55},{"day":25,"t":6,"imp":0.58},
      {"day":25,"t":7,"imp":0.5,"own":0.6,"pv":0.6,"exp":0},{"day":25,"t":7.5,"imp":0.1,"own":1.2,"pv":1.4,"exp":-0.1},{"day":25,"t":8,"imp":0,"own":2.0,"pv":2.4,"exp":-0.3},{"day":25,"t":8.5,"imp":0,"own":2.5,"pv":2.9,"exp":-0.5},{"day":25,"t":9,"imp":0,"own":2.7,"pv":3.05,"exp":-0.7},{"day":25,"t":9.5,"imp":0,"own":2.8,"pv":3.05,"exp":-0.9},{"day":25,"t":10,"imp":0,"own":2.8,"pv":3.05,"exp":-1.05},{"day":25,"t":10.5,"imp":0,"own":2.7,"pv":3.05,"exp":-1.2},{"day":25,"t":11,"imp":0,"own":2.8,"pv":3.05,"exp":-1.35},{"day":25,"t":11.5,"imp":0,"own":2.8,"pv":3.05,"exp":-1.45},{"day":25,"t":12,"imp":0,"own":2.7,"pv":3.0,"exp":-1.5},{"day":25,"t":12.5,"imp":0,"own":2.8,"pv":3.05,"exp":-1.4},{"day":25,"t":13,"imp":0,"own":2.7,"pv":3.0,"exp":-1.35},{"day":25,"t":13.5,"imp":0,"own":2.6,"pv":3.0,"exp":-1.4},{"day":25,"t":14,"imp":0,"own":0.8,"pv":0.9,"exp":-1.9},{"day":25,"t":14.5,"imp":0,"own":0.65,"pv":0.7,"exp":-2.2},{"day":25,"t":15,"imp":0,"own":0.6,"pv":0.65,"exp":-1.7},{"day":25,"t":15.5,"imp":0,"own":0.6,"pv":0.6,"exp":-1.1},{"day":25,"t":16,"imp":0,"own":0.6,"pv":0.6,"exp":-0.4},{"day":25,"t":16.5,"imp":0.2,"own":0.6,"pv":0.6,"exp":-0.05},{"day":25,"t":17,"imp":0.6,"own":0.6,"pv":0.6,"exp":0},
      {"day":25,"t":18,"imp":0.85},{"day":25,"t":19,"imp":0.85},{"day":25,"t":19.7,"imp":0.9},{"day":25,"t":19.8,"imp":4.0},{"day":25,"t":19.95,"imp":1.5},{"day":25,"t":20.5,"imp":1.0},{"day":25,"t":21,"imp":0.9},{"day":25,"t":22,"imp":0.92},{"day":25,"t":23,"imp":0.9},{"day":25,"t":24,"imp":0.85},

      {"day":26,"t":0,"imp":0.55},{"day":26,"t":1,"imp":0.55},{"day":26,"t":2,"imp":0.55},{"day":26,"t":3,"imp":0.52},{"day":26,"t":4,"imp":0.55},{"day":26,"t":5,"imp":0.55},{"day":26,"t":6,"imp":0.58},
      {"day":26,"t":7,"imp":0.5,"own":0.6,"pv":0.6,"exp":0},{"day":26,"t":7.5,"imp":0.1,"own":1.2,"pv":1.6,"exp":-0.1},{"day":26,"t":8,"imp":0,"own":2.0,"pv":2.6,"exp":-0.2},{"day":26,"t":8.5,"imp":0,"own":2.4,"pv":3.2,"exp":-0.3},{"day":26,"t":9,"imp":0,"own":2.5,"pv":3.4,"exp":-0.4},{"day":26,"t":9.5,"imp":0,"own":2.6,"pv":3.6,"exp":-0.6},{"day":26,"t":10,"imp":0,"own":2.7,"pv":3.7,"exp":-0.8},{"day":26,"t":10.5,"imp":0,"own":2.6,"pv":3.8,"exp":-1.0},{"day":26,"t":11,"imp":0,"own":2.9,"pv":3.9,"exp":-1.1},{"day":26,"t":11.5,"imp":0,"own":2.8,"pv":3.8,"exp":-1.2},{"day":26,"t":12,"imp":0,"own":3.4,"pv":4.0,"exp":-1.3},{"day":26,"t":12.5,"imp":0,"own":3.0,"pv":3.6,"exp":-1.3},{"day":26,"t":13,"imp":0,"own":2.7,"pv":3.3,"exp":-1.4},{"day":26,"t":13.5,"imp":0,"own":2.5,"pv":2.9,"exp":-1.5},{"day":26,"t":14,"imp":0,"own":1.0,"pv":1.2,"exp":-1.7},{"day":26,"t":14.5,"imp":0,"own":0.8,"pv":0.9,"exp":-1.5},{"day":26,"t":15,"imp":0,"own":0.75,"pv":0.8,"exp":-1.2},{"day":26,"t":15.5,"imp":0,"own":0.7,"pv":0.7,"exp":-0.6},{"day":26,"t":16,"imp":0,"own":0.7,"pv":0.7,"exp":-0.1},{"day":26,"t":16.5,"imp":0.2,"own":0.7,"pv":0.7,"exp":0},{"day":26,"t":17,"imp":0.6,"own":0.8,"pv":0.8,"exp":0},
      {"day":26,"t":18,"imp":0.95},{"day":26,"t":18.9,"imp":0.95},{"day":26,"t":19,"imp":3.6},{"day":26,"t":19.2,"imp":1.5},{"day":26,"t":19.6,"imp":1.5},{"day":26,"t":20,"imp":0.95},{"day":26,"t":21,"imp":0.9},{"day":26,"t":22,"imp":0.9},{"day":26,"t":23,"imp":0.9},{"day":26,"t":24,"imp":0.8},

      {"day":27,"t":0,"imp":0.6},{"day":27,"t":1,"imp":0.6},{"day":27,"t":2,"imp":0.55},{"day":27,"t":3,"imp":0.6},{"day":27,"t":4,"imp":0.6},{"day":27,"t":5,"imp":0.58},{"day":27,"t":6,"imp":0.6},
      {"day":27,"t":7,"imp":0.55,"own":0.6,"pv":0.6,"exp":0},{"day":27,"t":7.5,"imp":0.1,"own":1.4,"pv":1.6,"exp":-0.1},{"day":27,"t":8,"imp":0,"own":2.0,"pv":2.4,"exp":-0.2},{"day":27,"t":8.5,"imp":0,"own":2.4,"pv":2.8,"exp":-0.4},{"day":27,"t":9,"imp":0,"own":2.6,"pv":3.0,"exp":-0.6},{"day":27,"t":9.5,"imp":0,"own":2.6,"pv":3.1,"exp":-0.8},{"day":27,"t":10,"imp":0,"own":2.7,"pv":3.1,"exp":-0.95},{"day":27,"t":10.5,"imp":0,"own":2.6,"pv":3.1,"exp":-1.1},{"day":27,"t":11,"imp":0,"own":2.8,"pv":3.2,"exp":-1.2},{"day":27,"t":11.5,"imp":0,"own":2.7,"pv":3.1,"exp":-1.3},{"day":27,"t":12,"imp":0,"own":2.6,"pv":3.0,"exp":-1.4},{"day":27,"t":12.5,"imp":0,"own":2.7,"pv":2.9,"exp":-1.4},{"day":27,"t":13,"imp":0,"own":2.7,"pv":2.9,"exp":-1.45},{"day":27,"t":13.5,"imp":0,"own":1.3,"pv":1.3,"exp":-1.7},{"day":27,"t":14,"imp":0,"own":0.85,"pv":0.9,"exp":-2.2},{"day":27,"t":14.5,"imp":0,"own":0.75,"pv":0.8,"exp":-2.0},{"day":27,"t":15,"imp":0,"own":0.7,"pv":0.7,"exp":-1.4},{"day":27,"t":15.5,"imp":0,"own":0.7,"pv":0.7,"exp":-0.6},{"day":27,"t":16,"imp":0,"own":0.7,"pv":0.7,"exp":-0.1},{"day":27,"t":16.5,"imp":0.3,"own":0.7,"pv":0.7,"exp":0},{"day":27,"t":17,"imp":0.8,"own":0.8,"pv":0.8,"exp":0},
      {"day":27,"t":18,"imp":0.9},{"day":27,"t":19,"imp":0.92},{"day":27,"t":20,"imp":0.95},{"day":27,"t":21,"imp":0.95},{"day":27,"t":22,"imp":0.92},{"day":27,"t":23,"imp":0.8},{"day":27,"t":24,"imp":0.6},

      {"day":28,"t":0,"imp":0.55},{"day":28,"t":1,"imp":0.55},{"day":28,"t":2,"imp":0.52},{"day":28,"t":3,"imp":0.55},{"day":28,"t":4,"imp":0.55},{"day":28,"t":5,"imp":0.55},{"day":28,"t":6,"imp":0.58},{"day":28,"t":7,"imp":0.6},
      {"day":28,"t":7.5,"imp":0.2,"own":0.7,"pv":0.7,"exp":0},{"day":28,"t":8,"imp":0.1,"own":0.75,"pv":0.75,"exp":0},{"day":28,"t":8.5,"imp":0,"own":1.0,"pv":1.2,"exp":0},{"day":28,"t":9,"imp":0,"own":1.4,"pv":2.0,"exp":-0.1},{"day":28,"t":9.5,"imp":0,"own":1.6,"pv":2.4,"exp":-0.3},{"day":28,"t":10,"imp":0,"own":1.3,"pv":1.9,"exp":-0.2},{"day":28,"t":10.5,"imp":0,"own":1.0,"pv":1.3,"exp":-0.1},{"day":28,"t":11,"imp":0,"own":1.4,"pv":2.0,"exp":-0.3},{"day":28,"t":11.5,"imp":0,"own":1.2,"pv":1.6,"exp":-0.2},{"day":28,"t":12,"imp":0,"own":1.7,"pv":2.3,"exp":-0.3},{"day":28,"t":12.5,"imp":0,"own":1.5,"pv":2.0,"exp":-0.3},{"day":28,"t":13,"imp":0,"own":1.4,"pv":2.3,"exp":-0.6},{"day":28,"t":13.5,"imp":0,"own":1.2,"pv":1.8,"exp":-0.2},{"day":28,"t":14,"imp":0,"own":1.0,"pv":1.2,"exp":-0.1},{"day":28,"t":14.5,"imp":0.1,"own":0.8,"pv":0.8,"exp":0},{"day":28,"t":15,"imp":0.4,"own":0.8,"pv":0.8,"exp":0},{"day":28,"t":15.5,"imp":0.1,"own":0.7,"pv":0.7,"exp":0},{"day":28,"t":16,"imp":0.8,"own":0.8,"pv":0.8,"exp":0},
      {"day":28,"t":17,"imp":0.85},{"day":28,"t":18,"imp":0.85},{"day":28,"t":19,"imp":0.9},{"day":28,"t":20,"imp":0.95},{"day":28,"t":21,"imp":0.95},{"day":28,"t":22,"imp":0.95},{"day":28,"t":23,"imp":0.95},{"day":28,"t":24,"imp":0.85}
    ]
  },
  "transform": [
    {"calculate": "floor((datum.day + 3) / 7)", "as": "week"},
    {"calculate": "(datum.day + 3) % 7", "as": "weekday"}
  ],
  "facet": {
    "row": {"field": "week", "type": "ordinal", "header": null},
    "column": {"field": "weekday", "type": "ordinal", "header": null}
  },
  "spacing": 0,
  "spec": {
    "width": 307,
    "height": 336,
    "layer": [
      {
        "transform": [{"filter": "datum.pv != null"}],
        "mark": {"type": "area", "color": "#12b5ec", "opacity": 1},
        "encoding": {
          "x": {"field": "t", "type": "quantitative", "scale": {"domain": [0, 24], "nice": false, "zero": false}, "axis": null},
          "y": {"field": "pv", "type": "quantitative", "scale": {"domain": [-6, 6], "nice": false}, "axis": null}
        }
      },
      {
        "transform": [{"filter": "datum.own != null"}],
        "mark": {"type": "area", "color": "#fdbf50", "opacity": 1},
        "encoding": {
          "x": {"field": "t", "type": "quantitative", "axis": null},
          "y": {"field": "own", "type": "quantitative", "axis": null}
        }
      },
      {
        "transform": [{"filter": "datum.imp != null"}],
        "mark": {"type": "area", "color": "#ff4f4f", "opacity": 1},
        "encoding": {
          "x": {"field": "t", "type": "quantitative", "axis": null},
          "y": {"field": "imp", "type": "quantitative", "axis": null}
        }
      },
      {
        "transform": [{"filter": "datum.exp != null"}],
        "mark": {"type": "area", "color": "#4aa84a", "opacity": 1},
        "encoding": {
          "x": {"field": "t", "type": "quantitative", "axis": null},
          "y": {"field": "exp", "type": "quantitative", "axis": null}
        }
      },
      {
        "transform": [{"filter": "datum.dt != null"}],
        "mark": {"type": "rect", "filled": false, "stroke": "#d4d4d4", "strokeWidth": 1},
        "encoding": {
          "x": {"datum": 0}, "x2": {"datum": 24},
          "y": {"datum": 6}, "y2": {"datum": -6}
        }
      },
      {
        "transform": [{"filter": "datum.dt != null"}],
        "mark": {"type": "text", "align": "left", "baseline": "alphabetic", "dx": 7, "dy": 26, "font": "DejaVu Sans", "fontSize": 19, "fontWeight": "bold"},
        "encoding": {
          "x": {"datum": 0}, "y": {"datum": 6},
          "text": {"field": "dt"},
          "color": {"field": "lead", "type": "nominal", "scale": {"domain": ["import", "solar", "export"], "range": ["#ff0000", "#ffa500", "#008000"]}, "legend": null}
        }
      },
      {
        "transform": [{"filter": "datum.dt != null"}],
        "mark": {"type": "text", "align": "right", "baseline": "alphabetic", "dx": -14, "dy": 26, "font": "DejaVu Sans", "fontSize": 19, "fontWeight": "bold", "color": "#ff0000"},
        "encoding": {"x": {"datum": 24}, "y": {"datum": 6}, "text": {"field": "inKwh", "type": "quantitative", "format": ".1f"}}
      },
      {
        "transform": [{"filter": "datum.dt != null"}],
        "mark": {"type": "text", "align": "right", "baseline": "alphabetic", "dx": -14, "dy": 54, "font": "DejaVu Sans", "fontSize": 19, "fontWeight": "bold", "color": "#ffa500"},
        "encoding": {"x": {"datum": 24}, "y": {"datum": 6}, "text": {"field": "pvKwh", "type": "quantitative", "format": ".1f"}}
      },
      {
        "transform": [{"filter": "datum.dt != null"}],
        "mark": {"type": "text", "align": "right", "baseline": "alphabetic", "dx": -14, "dy": -17, "font": "DejaVu Sans", "fontSize": 19, "fontWeight": "bold", "color": "#008000"},
        "encoding": {"x": {"datum": 24}, "y": {"datum": -6}, "text": {"field": "outKwh", "type": "quantitative", "format": ".1f"}}
      }
    ]
  },
  "config": {
    "view": {"stroke": null}
  }
}
